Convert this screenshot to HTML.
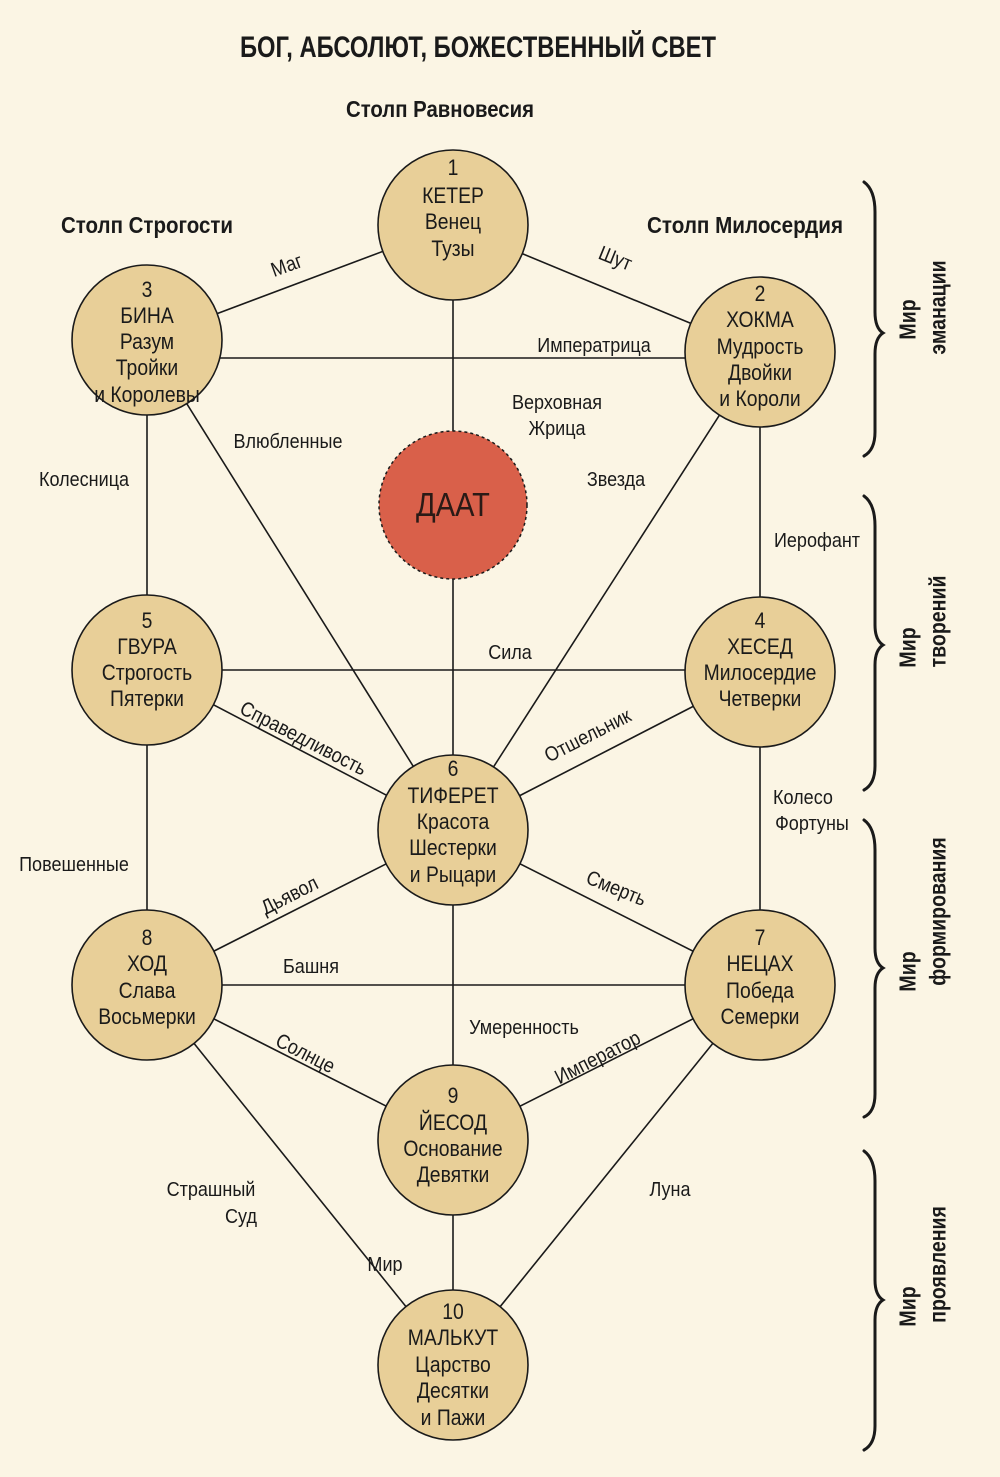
<!DOCTYPE html>
<html><head><meta charset="utf-8"><style>
html,body{margin:0;padding:0;background:#fbf5e4}
svg{display:block}
text{font-family:"Liberation Sans Narrow","Liberation Sans",sans-serif;fill:#1a1a1a;transform-box:fill-box;transform-origin:center;transform:scaleX(.88)}
.n{font-size:22px;text-anchor:middle}
.l{font-size:20.5px;text-anchor:middle}
.b{font-weight:bold}
.t{transform:none}
</style></head><body>
<svg width="1000" height="1477" viewBox="0 0 1000 1477" xmlns="http://www.w3.org/2000/svg">
<rect width="1000" height="1477" fill="#fbf5e4"/>
<text x="478" y="57" class="b t" font-size="30" text-anchor="middle" textLength="476" lengthAdjust="spacingAndGlyphs">БОГ, АБСОЛЮТ, БОЖЕСТВЕННЫЙ СВЕТ</text>
<text x="440" y="117" class="b t" font-size="23" text-anchor="middle" textLength="188" lengthAdjust="spacingAndGlyphs">Столп Равновесия</text>
<text x="147" y="233" class="b t" font-size="23" text-anchor="middle" textLength="172" lengthAdjust="spacingAndGlyphs">Столп Строгости</text>
<text x="745" y="233" class="b t" font-size="23" text-anchor="middle" textLength="196" lengthAdjust="spacingAndGlyphs">Столп Милосердия</text>

<g stroke="#1a1a1a" stroke-width="1.6">
<line x1="453" y1="225" x2="147" y2="340"/>
<line x1="453" y1="225" x2="760" y2="352"/>
<line x1="453" y1="225" x2="453" y2="830"/>
<line x1="147" y1="358" x2="760" y2="358"/>
<line x1="147" y1="340" x2="147" y2="670"/>
<line x1="147" y1="340" x2="453" y2="830"/>
<line x1="760" y1="352" x2="760" y2="672"/>
<line x1="760" y1="352" x2="453" y2="830"/>
<line x1="147" y1="670" x2="760" y2="670"/>
<line x1="147" y1="670" x2="453" y2="830"/>
<line x1="760" y1="672" x2="453" y2="830"/>
<line x1="147" y1="670" x2="147" y2="985"/>
<line x1="760" y1="672" x2="760" y2="985"/>
<line x1="453" y1="830" x2="147" y2="985"/>
<line x1="453" y1="830" x2="760" y2="985"/>
<line x1="453" y1="830" x2="453" y2="1140"/>
<line x1="147" y1="985" x2="760" y2="985"/>
<line x1="147" y1="985" x2="453" y2="1140"/>
<line x1="760" y1="985" x2="453" y2="1140"/>
<line x1="147" y1="985" x2="453" y2="1365"/>
<line x1="760" y1="985" x2="453" y2="1365"/>
<line x1="453" y1="1140" x2="453" y2="1365"/>
</g>

<g fill="#e8cf98" stroke="#1a1a1a" stroke-width="1.6">
<circle cx="453" cy="225" r="75"/>
<circle cx="147" cy="340" r="75"/>
<circle cx="760" cy="352" r="75"/>
<circle cx="147" cy="670" r="75"/>
<circle cx="760" cy="672" r="75"/>
<circle cx="453" cy="830" r="75"/>
<circle cx="147" cy="985" r="75"/>
<circle cx="760" cy="985" r="75"/>
<circle cx="453" cy="1140" r="75"/>
<circle cx="453" cy="1365" r="75"/>
</g>
<circle cx="453" cy="505" r="74" fill="#d9604a" stroke="#1a1a1a" stroke-width="1.5" stroke-dasharray="3,3"/>
<text x="453" y="516" font-size="33" text-anchor="middle" style="fill:#2a1a16">ДААТ</text>

<g>
<text class="n" x="453" y="175">1</text><text class="n" x="453" y="203">КЕТЕР</text><text class="n" x="453" y="229">Венец</text><text class="n" x="453" y="256">Тузы</text>
<text class="n" x="147" y="297">3</text><text class="n" x="147" y="323">БИНА</text><text class="n" x="147" y="349">Разум</text><text class="n" x="147" y="375">Тройки</text><text class="n" x="147" y="402">и Королевы</text>
<text class="n" x="760" y="301">2</text><text class="n" x="760" y="327">ХОКМА</text><text class="n" x="760" y="354">Мудрость</text><text class="n" x="760" y="380">Двойки</text><text class="n" x="760" y="406">и Короли</text>
<text class="n" x="147" y="628">5</text><text class="n" x="147" y="654">ГВУРА</text><text class="n" x="147" y="680">Строгость</text><text class="n" x="147" y="706">Пятерки</text>
<text class="n" x="760" y="628">4</text><text class="n" x="760" y="654">ХЕСЕД</text><text class="n" x="760" y="680">Милосердие</text><text class="n" x="760" y="706">Четверки</text>
<text class="n" x="453" y="776">6</text><text class="n" x="453" y="803">ТИФЕРЕТ</text><text class="n" x="453" y="829">Красота</text><text class="n" x="453" y="855">Шестерки</text><text class="n" x="453" y="882">и Рыцари</text>
<text class="n" x="147" y="945">8</text><text class="n" x="147" y="971">ХОД</text><text class="n" x="147" y="998">Слава</text><text class="n" x="147" y="1024">Восьмерки</text>
<text class="n" x="760" y="945">7</text><text class="n" x="760" y="971">НЕЦАХ</text><text class="n" x="760" y="998">Победа</text><text class="n" x="760" y="1024">Семерки</text>
<text class="n" x="453" y="1103">9</text><text class="n" x="453" y="1130">ЙЕСОД</text><text class="n" x="453" y="1156">Основание</text><text class="n" x="453" y="1182">Девятки</text>
<text class="n" x="453" y="1319">10</text><text class="n" x="453" y="1345">МАЛЬКУТ</text><text class="n" x="453" y="1372">Царство</text><text class="n" x="453" y="1398">Десятки</text><text class="n" x="453" y="1425">и Пажи</text>
</g>

<g>
<text class="l" x="287" y="272" style="transform:rotate(-20deg) scaleX(.88)">Маг</text>
<text class="l" x="615" y="265" style="transform:rotate(22deg) scaleX(.88)">Шут</text>
<text class="l" x="594" y="352">Императрица</text>
<text class="l" x="557" y="409">Верховная</text>
<text class="l" x="557" y="435">Жрица</text>
<text class="l" x="288" y="448">Влюбленные</text>
<text class="l" x="84" y="486">Колесница</text>
<text class="l" x="616" y="486">Звезда</text>
<text class="l" x="817" y="547">Иерофант</text>
<text class="l" x="510" y="659">Сила</text>
<text class="l" x="303" y="745" style="transform:rotate(27deg) scaleX(.88)">Справедливость</text>
<text class="l" x="588" y="742" style="transform:rotate(-27deg) scaleX(.88)">Отшельник</text>
<text class="l" x="803" y="804">Колесо</text>
<text class="l" x="812" y="830">Фортуны</text>
<text class="l" x="74" y="871">Повешенные</text>
<text class="l" x="290" y="902" style="transform:rotate(-27deg) scaleX(.88)">Дьявол</text>
<text class="l" x="616" y="895" style="transform:rotate(22deg) scaleX(.88)">Смерть</text>
<text class="l" x="311" y="973">Башня</text>
<text class="l" x="524" y="1034">Умеренность</text>
<text class="l" x="305" y="1060" style="transform:rotate(27deg) scaleX(.88)">Солнце</text>
<text class="l" x="598" y="1064" style="transform:rotate(-27deg) scaleX(.88)">Император</text>
<text class="l" x="211" y="1196">Страшный</text>
<text class="l" x="241" y="1223">Суд</text>
<text class="l" x="670" y="1196">Луна</text>
<text class="l" x="385" y="1271">Мир</text>
</g>

<g fill="none" stroke="#1a1a1a" stroke-width="3" stroke-linecap="round">
<path d="M864,182 Q875,190 875,212 L875,312 Q875,328 883,333 Q875,338 875,354 L875,432 Q875,450 864,456"/>
<path d="M864,496 Q875,504 875,526 L875,625 Q875,640 883,645 Q875,650 875,665 L875,766 Q875,784 864,790"/>
<path d="M864,820 Q875,828 875,850 L875,948 Q875,963 883,968 Q875,973 875,988 L875,1094 Q875,1112 864,1117"/>
<path d="M864,1151 Q875,1159 875,1181 L875,1280 Q875,1295 883,1300 Q875,1305 875,1320 L875,1426 Q875,1444 864,1450"/>
</g>
<g>
<text x="908" y="327" class="b" text-anchor="middle" font-size="23" style="transform:rotate(-90deg) scaleX(.85)">Мир</text>
<text x="938" y="315" class="b" text-anchor="middle" font-size="23" style="transform:rotate(-90deg) scaleX(.85)">эманации</text>
<text x="908" y="655" class="b" text-anchor="middle" font-size="23" style="transform:rotate(-90deg) scaleX(.85)">Мир</text>
<text x="938" y="629" class="b" text-anchor="middle" font-size="23" style="transform:rotate(-90deg) scaleX(.85)">творений</text>
<text x="908" y="979" class="b" text-anchor="middle" font-size="23" style="transform:rotate(-90deg) scaleX(.85)">Мир</text>
<text x="938" y="919" class="b" text-anchor="middle" font-size="23" style="transform:rotate(-90deg) scaleX(.85)">формирования</text>
<text x="908" y="1314" class="b" text-anchor="middle" font-size="23" style="transform:rotate(-90deg) scaleX(.85)">Мир</text>
<text x="938" y="1272" class="b" text-anchor="middle" font-size="23" style="transform:rotate(-90deg) scaleX(.85)">проявления</text>
</g>
</svg>
</body></html>
